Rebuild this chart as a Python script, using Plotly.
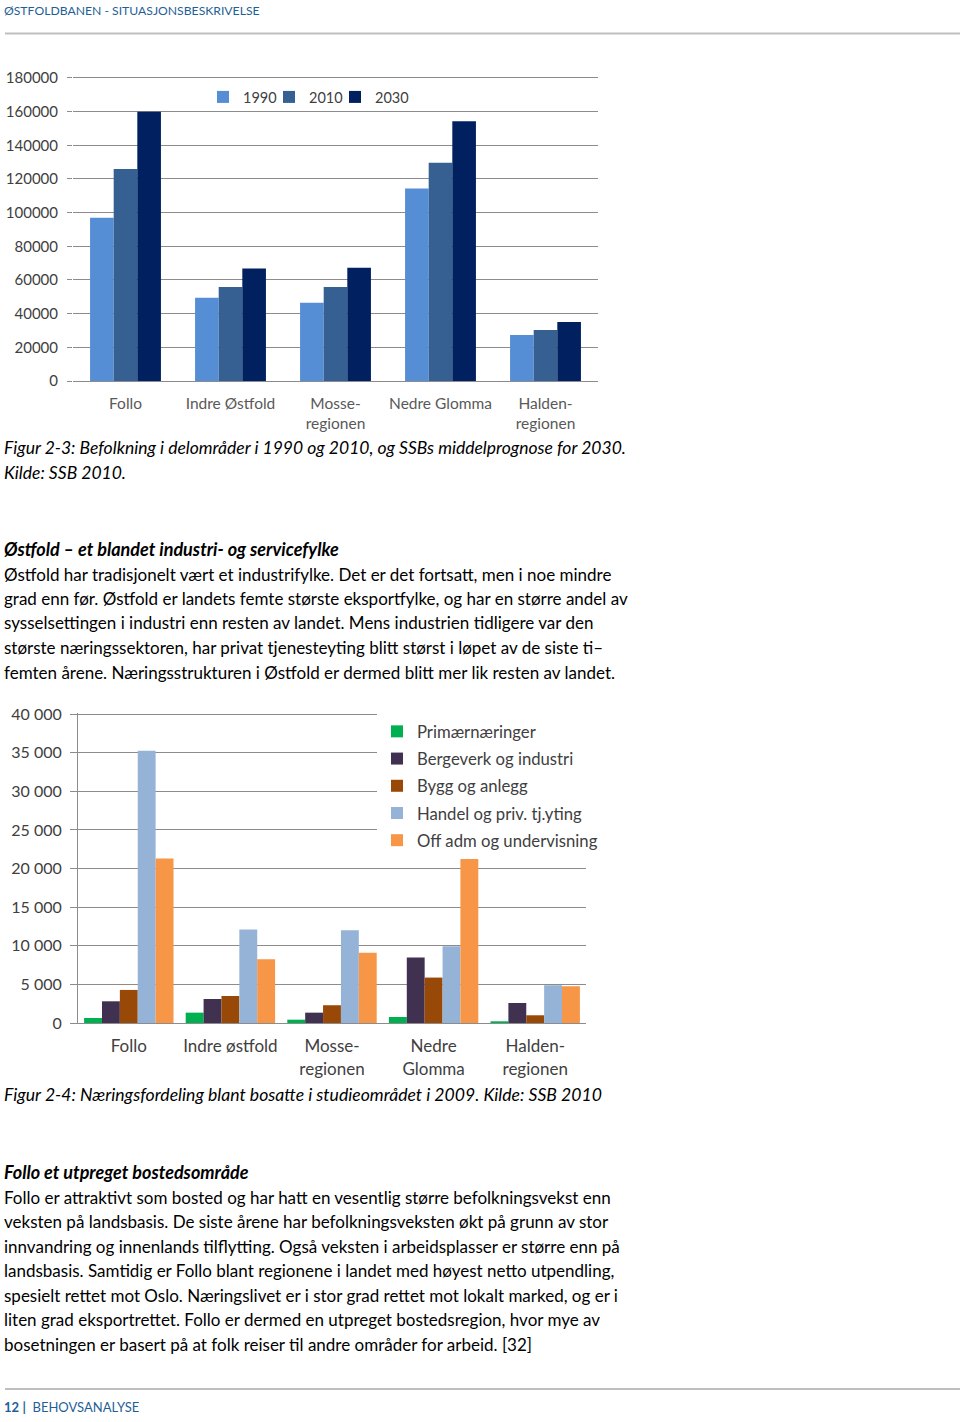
import plotly.graph_objects as go

W, H = 960, 1422
FONT = "Lato"

# ---------------- Data ----------------
regions1 = ["Follo", "Indre Østfold", "Mosse-regionen", "Nedre Glomma", "Halden-regionen"]
region1_labels = ["Follo", "Indre Østfold", "Mosse-<br>regionen", "Nedre Glomma", "Halden-<br>regionen"]
years = ["1990", "2010", "2030"]
pop_1990 = [97000, 49500, 46500, 114300, 27300]
pop_2010 = [126000, 55800, 55800, 129600, 30300]
pop_2030 = [160000, 66900, 67300, 154300, 35000]
ticks1 = [0, 20000, 40000, 60000, 80000, 100000, 120000, 140000, 160000, 180000]
tick1_labels = ["0", "20000", "40000", "60000", "80000", "100000", "120000", "140000", "160000", "180000"]

regions2 = ["Follo", "Indre østfold", "Mosse-regionen", "Nedre Glomma", "Halden-regionen"]
region2_labels = ["Follo", "Indre østfold", "Mosse-<br>regionen", "Nedre<br>Glomma", "Halden-<br>regionen"]
sectors = ["Primærnæringer", "Bergeverk og industri", "Bygg og anlegg",
           "Handel og priv. tj.yting", "Off adm og undervisning"]
primaer = [650, 1340, 430, 780, 220]
bergverk = [2810, 3110, 1340, 8470, 2590]
bygg = [4280, 3500, 2300, 5880, 1000]
handel = [35240, 12100, 12020, 9950, 4890]
offadm = [21310, 8260, 9080, 21230, 4760]
ticks2 = [0, 5000, 10000, 15000, 20000, 25000, 30000, 35000, 40000]
tick2_labels = ["0", "5 000", "10 000", "15 000", "20 000", "25 000", "30 000", "35 000", "40 000"]

colors1 = ["#558ED5", "#376092", "#002060"]
colors2 = ["#00B050", "#403151", "#984807", "#95B3D7", "#F79646"]


def px(x):
    return x / W


def py(y):
    return 1 - y / H


fig = go.Figure()

GRID = "#8C8C8C"
LBL = "#404040"

# chart 1: one small legend per year so entries sit where the reference has them
legend_ids1 = ["legend", "legend3", "legend4"]
legend_x1 = [203, 269, 335]
n1 = len(years)
w1 = 0.225
for j, (name, vals, col) in enumerate(zip(years, [pop_1990, pop_2010, pop_2030], colors1)):
    fig.add_trace(go.Bar(x=regions1, y=vals, name=name, marker=dict(color=col, line=dict(width=0)),
                         width=w1, offset=-w1 * n1 / 2 + w1 * j,
                         xaxis="x", yaxis="y", legend=legend_ids1[j]))

n2 = len(sectors)
w2 = 0.176
for j, (name, vals, col) in enumerate(zip(sectors, [primaer, bergverk, bygg, handel, offadm], colors2)):
    fig.add_trace(go.Bar(x=regions2, y=vals, name=name, marker=dict(color=col, line=dict(width=0)),
                         width=w2, offset=-w2 * n2 / 2 + w2 * j,
                         xaxis="x2", yaxis="y2", legend="legend2", legendgroup=f"g{j}"))

fig.update_layout(
    width=W, height=H,
    margin=dict(l=0, r=0, t=0, b=0, pad=0, autoexpand=False),
    paper_bgcolor="white", plot_bgcolor="white",
    font=dict(family=FONT, color="#000000"),
    barmode="group",
    showlegend=True,
    xaxis=dict(domain=[px(73), px(598)], anchor="y", type="category",
               categoryorder="array", categoryarray=regions1,
               tickvals=regions1, ticktext=region1_labels,
               showline=True, linecolor=GRID, linewidth=1, ticks="",
               ticklabelstandoff=8,
               tickfont=dict(family=FONT, size=15.5, color="#595959"),
               showgrid=False, automargin=False),
    yaxis=dict(domain=[py(381), py(76.3)], anchor="x", range=[0, 181000],
               tickvals=ticks1, ticktext=tick1_labels,
               showgrid=True, gridcolor=GRID, gridwidth=1,
               ticks="outside", ticklen=5, tickcolor=GRID,
               showline=False, zeroline=False,
               ticklabelstandoff=6, automargin=False,
               tickfont=dict(family=FONT, size=15, color=LBL)),
    xaxis2=dict(domain=[px(78), px(586)], anchor="y2", type="category",
                categoryorder="array", categoryarray=regions2,
                tickvals=regions2, ticktext=region2_labels,
                showline=True, linecolor=GRID, linewidth=1, ticks="",
                ticklabelstandoff=8,
                tickfont=dict(family=FONT, size=17, color=LBL),
                showgrid=False, automargin=False),
    yaxis2=dict(domain=[py(1023), py(712.5)], anchor="x2", range=[0, 40200],
                tickvals=ticks2, ticktext=tick2_labels,
                showgrid=True, gridcolor=GRID, gridwidth=1,
                ticks="outside", ticklen=7, tickcolor=GRID,
                showline=True, linecolor=GRID, zeroline=False,
                ticklabelstandoff=5, automargin=False,
                tickfont=dict(family=FONT, size=16, color=LBL)),
    legend2=dict(orientation="v", x=px(377), y=py(714), xanchor="left", yanchor="top",
                 bgcolor="white", font=dict(family=FONT, size=16.7, color=LBL),
                 tracegroupgap=2.5, traceorder="grouped"),
)

for lid, lx in zip(legend_ids1, legend_x1):
    fig.update_layout({lid: dict(orientation="h", x=px(lx), y=py(97), xanchor="left", yanchor="middle",
                                 bgcolor="rgba(255,255,255,0)",
                                 font=dict(family=FONT, size=14.5, color=LBL))})

annotations = []


def txt(x, y, s, size=17, color="#000000", family=FONT):
    annotations.append(dict(x=px(x), y=py(y), xref="paper", yref="paper", text=s,
                            showarrow=False, xanchor="left", yanchor="middle",
                            font=dict(family=family, size=size, color=color)))


BLUE = "#1F5F96"
txt(2, 11, "ØSTFOLDBANEN - SITUASJONSBESKRIVELSE", size=12.2, color=BLUE)

txt(2, 447, "<i>Figur 2-3: Befolkning i delområder i 1990 og 2010, og SSBs middelprognose for 2030.</i>", size=17.5)
txt(2, 472, "<i>Kilde: SSB 2010.</i>", size=17.5)

txt(2, 549, "<b><i>Østfold – et blandet industri- og servicefylke</i></b>", size=18)
para1 = [
    "Østfold har tradisjonelt vært et industrifylke. Det er det fortsatt, men i noe mindre",
    "grad enn før. Østfold er landets femte største eksportfylke, og har en større andel av",
    "sysselsettingen i industri enn resten av landet. Mens industrien tidligere var den",
    "største næringssektoren, har privat tjenesteyting blitt størst i løpet av de siste ti–",
    "femten årene. Næringsstrukturen i Østfold er dermed blitt mer lik resten av landet.",
]
for i, line in enumerate(para1):
    txt(2, 574 + 24.5 * i, line)

txt(2, 1094, "<i>Figur 2-4: Næringsfordeling blant bosatte i studieområdet i 2009. Kilde: SSB 2010</i>", size=17.6)

txt(2, 1172, "<b><i>Follo et utpreget bostedsområde</i></b>", size=18)
para2 = [
    "Follo er attraktivt som bosted og har hatt en vesentlig større befolkningsvekst enn",
    "veksten på landsbasis. De siste årene har befolkningsveksten økt på grunn av stor",
    "innvandring og innenlands tilflytting. Også veksten i arbeidsplasser er større enn på",
    "landsbasis. Samtidig er Follo blant regionene i landet med høyest netto utpendling,",
    "spesielt rettet mot Oslo. Næringslivet er i stor grad rettet mot lokalt marked, og er i",
    "liten grad eksportrettet. Follo er dermed en utpreget bostedsregion, hvor mye av",
    "bosetningen er basert på at folk reiser til andre områder for arbeid. [32]",
]
for i, line in enumerate(para2):
    txt(2, 1197 + 24.5 * i, line)

txt(2, 1407, "<b>12</b> <b>|</b>  BEHOVSANALYSE", size=13, color=BLUE)

fig.update_layout(annotations=annotations)

fig.update_layout(shapes=[
    dict(type="line", xref="paper", yref="paper", x0=px(5), x1=1, y0=py(33.5), y1=py(33.5),
         line=dict(color="#BFBFBF", width=2)),
    dict(type="line", xref="paper", yref="paper", x0=px(5), x1=1, y0=py(1389), y1=py(1389),
         line=dict(color="#BFBFBF", width=2)),
])

fig.write_html("out.html", config={"displayModeBar": False},
               post_script="document.body.style.margin='0px';document.body.style.overflow='hidden';")
